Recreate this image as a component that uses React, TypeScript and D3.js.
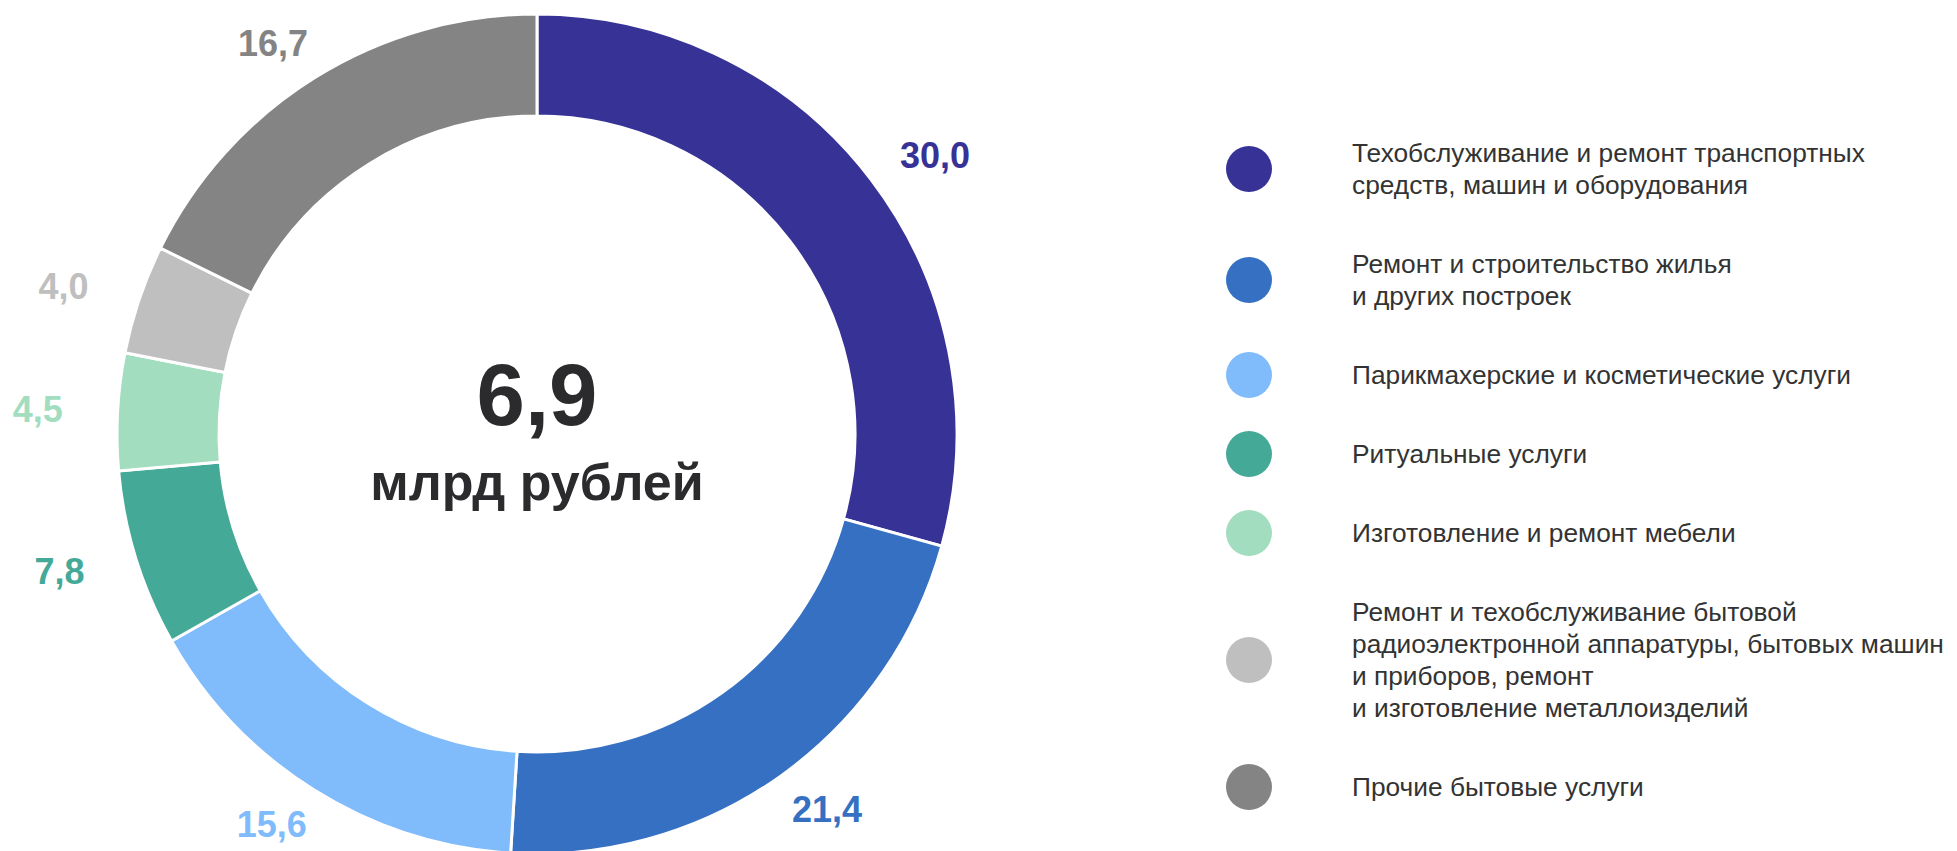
import React from "react";
import * as d3 from "d3";

// Slice shares as drawn in the picture (percent of the ring)
const shares: number[] = [29.3, 21.7, 15.8, 6.8, 4.5, 4.2, 17.7];
// Value labels printed next to the slices
const valueLabels: string[] = ["30,0", "21,4", "15,6", "7,8", "4,5", "4,0", "16,7"];
const colors: string[] = ["#373296", "#3570C2", "#80BBFB", "#45A998", "#A3DDBF", "#BFBFBF", "#848484"];
const categoryLines: string[][] = [
  ["Техобслуживание и ремонт транспортных", "средств, машин и оборудования"],
  ["Ремонт и строительство жилья", "и других построек"],
  ["Парикмахерские и косметические услуги"],
  ["Ритуальные услуги"],
  ["Изготовление и ремонт мебели"],
  [
    "Ремонт и техобслуживание бытовой",
    "радиоэлектронной аппаратуры, бытовых машин",
    "и приборов, ремонт",
    "и изготовление металлоизделий",
  ],
  ["Прочие бытовые услуги"],
];
const totalValue = "6,9";
const totalUnit = "млрд рублей";

const W = 1957;
const H = 851;
const CX = 537;
const CY = 434;
const R_OUT = 420;
const R_IN = 318;
const LABEL_RX = 500;
const LABEL_RY = 460;
const FONT = "'Liberation Sans', Arial, Helvetica, sans-serif";

const LEG_CX = 1249;
const LEG_R = 23;
const LEG_TEXT_X = 1352;
const LEG_TOP = 137;
const LINE_H = 32;
const LEG_GAP = 47;

export default function App() {
  const pie = d3
    .pie<number>()
    .sort(null)
    .value((d) => d)
    .startAngle(0)
    .endAngle(2 * Math.PI);
  const arcs = pie(shares);
  const arc = d3.arc<d3.PieArcDatum<number>>().innerRadius(R_IN).outerRadius(R_OUT);

  // legend layout
  const legendCenters: number[] = [];
  let y = LEG_TOP;
  categoryLines.forEach((lines) => {
    const h = lines.length * LINE_H;
    legendCenters.push(y + h / 2);
    y += h + LEG_GAP;
  });

  return (
    <svg
      width={W}
      height={H}
      viewBox={`0 0 ${W} ${H}`}
      style={{ position: "absolute", left: 0, top: 0, background: "#fff" }}
      fontFamily={FONT}
    >
      <g transform={`translate(${CX},${CY})`}>
        {arcs.map((a, i) => (
          <path key={i} d={arc(a) || ""} fill={colors[i]} stroke="#fff" strokeWidth={3} strokeLinejoin="miter" />
        ))}
        {arcs.map((a, i) => {
          const mid = (a.startAngle + a.endAngle) / 2;
          const x = Math.sin(mid) * LABEL_RX;
          const yy = -Math.cos(mid) * LABEL_RY;
          return (
            <text
              key={"l" + i}
              x={x}
              y={yy}
              dy="0.36em"
              textAnchor="middle"
              fontWeight="bold"
              fontSize={36}
              fill={colors[i]}
            >
              {valueLabels[i]}
            </text>
          );
        })}
        <text x={0} y={-9} textAnchor="middle" fontWeight="bold" fontSize={87} fill="#2B2B2E">
          {totalValue}
        </text>
        <text x={0} y={66} textAnchor="middle" fontWeight="bold" fontSize={52} fill="#2B2B2E">
          {totalUnit}
        </text>
      </g>
      <g>
        {categoryLines.map((lines, i) => {
          const c = legendCenters[i];
          const firstBaseline = c - ((lines.length - 1) * LINE_H) / 2 + 9;
          return (
            <g key={"leg" + i}>
              <circle cx={LEG_CX} cy={c} r={LEG_R} fill={colors[i]} />
              <text fontSize={26.3} fill="#333333">
                {lines.map((ln, j) => (
                  <tspan key={j} x={LEG_TEXT_X} y={firstBaseline + j * LINE_H}>
                    {ln}
                  </tspan>
                ))}
              </text>
            </g>
          );
        })}
      </g>
    </svg>
  );
}
